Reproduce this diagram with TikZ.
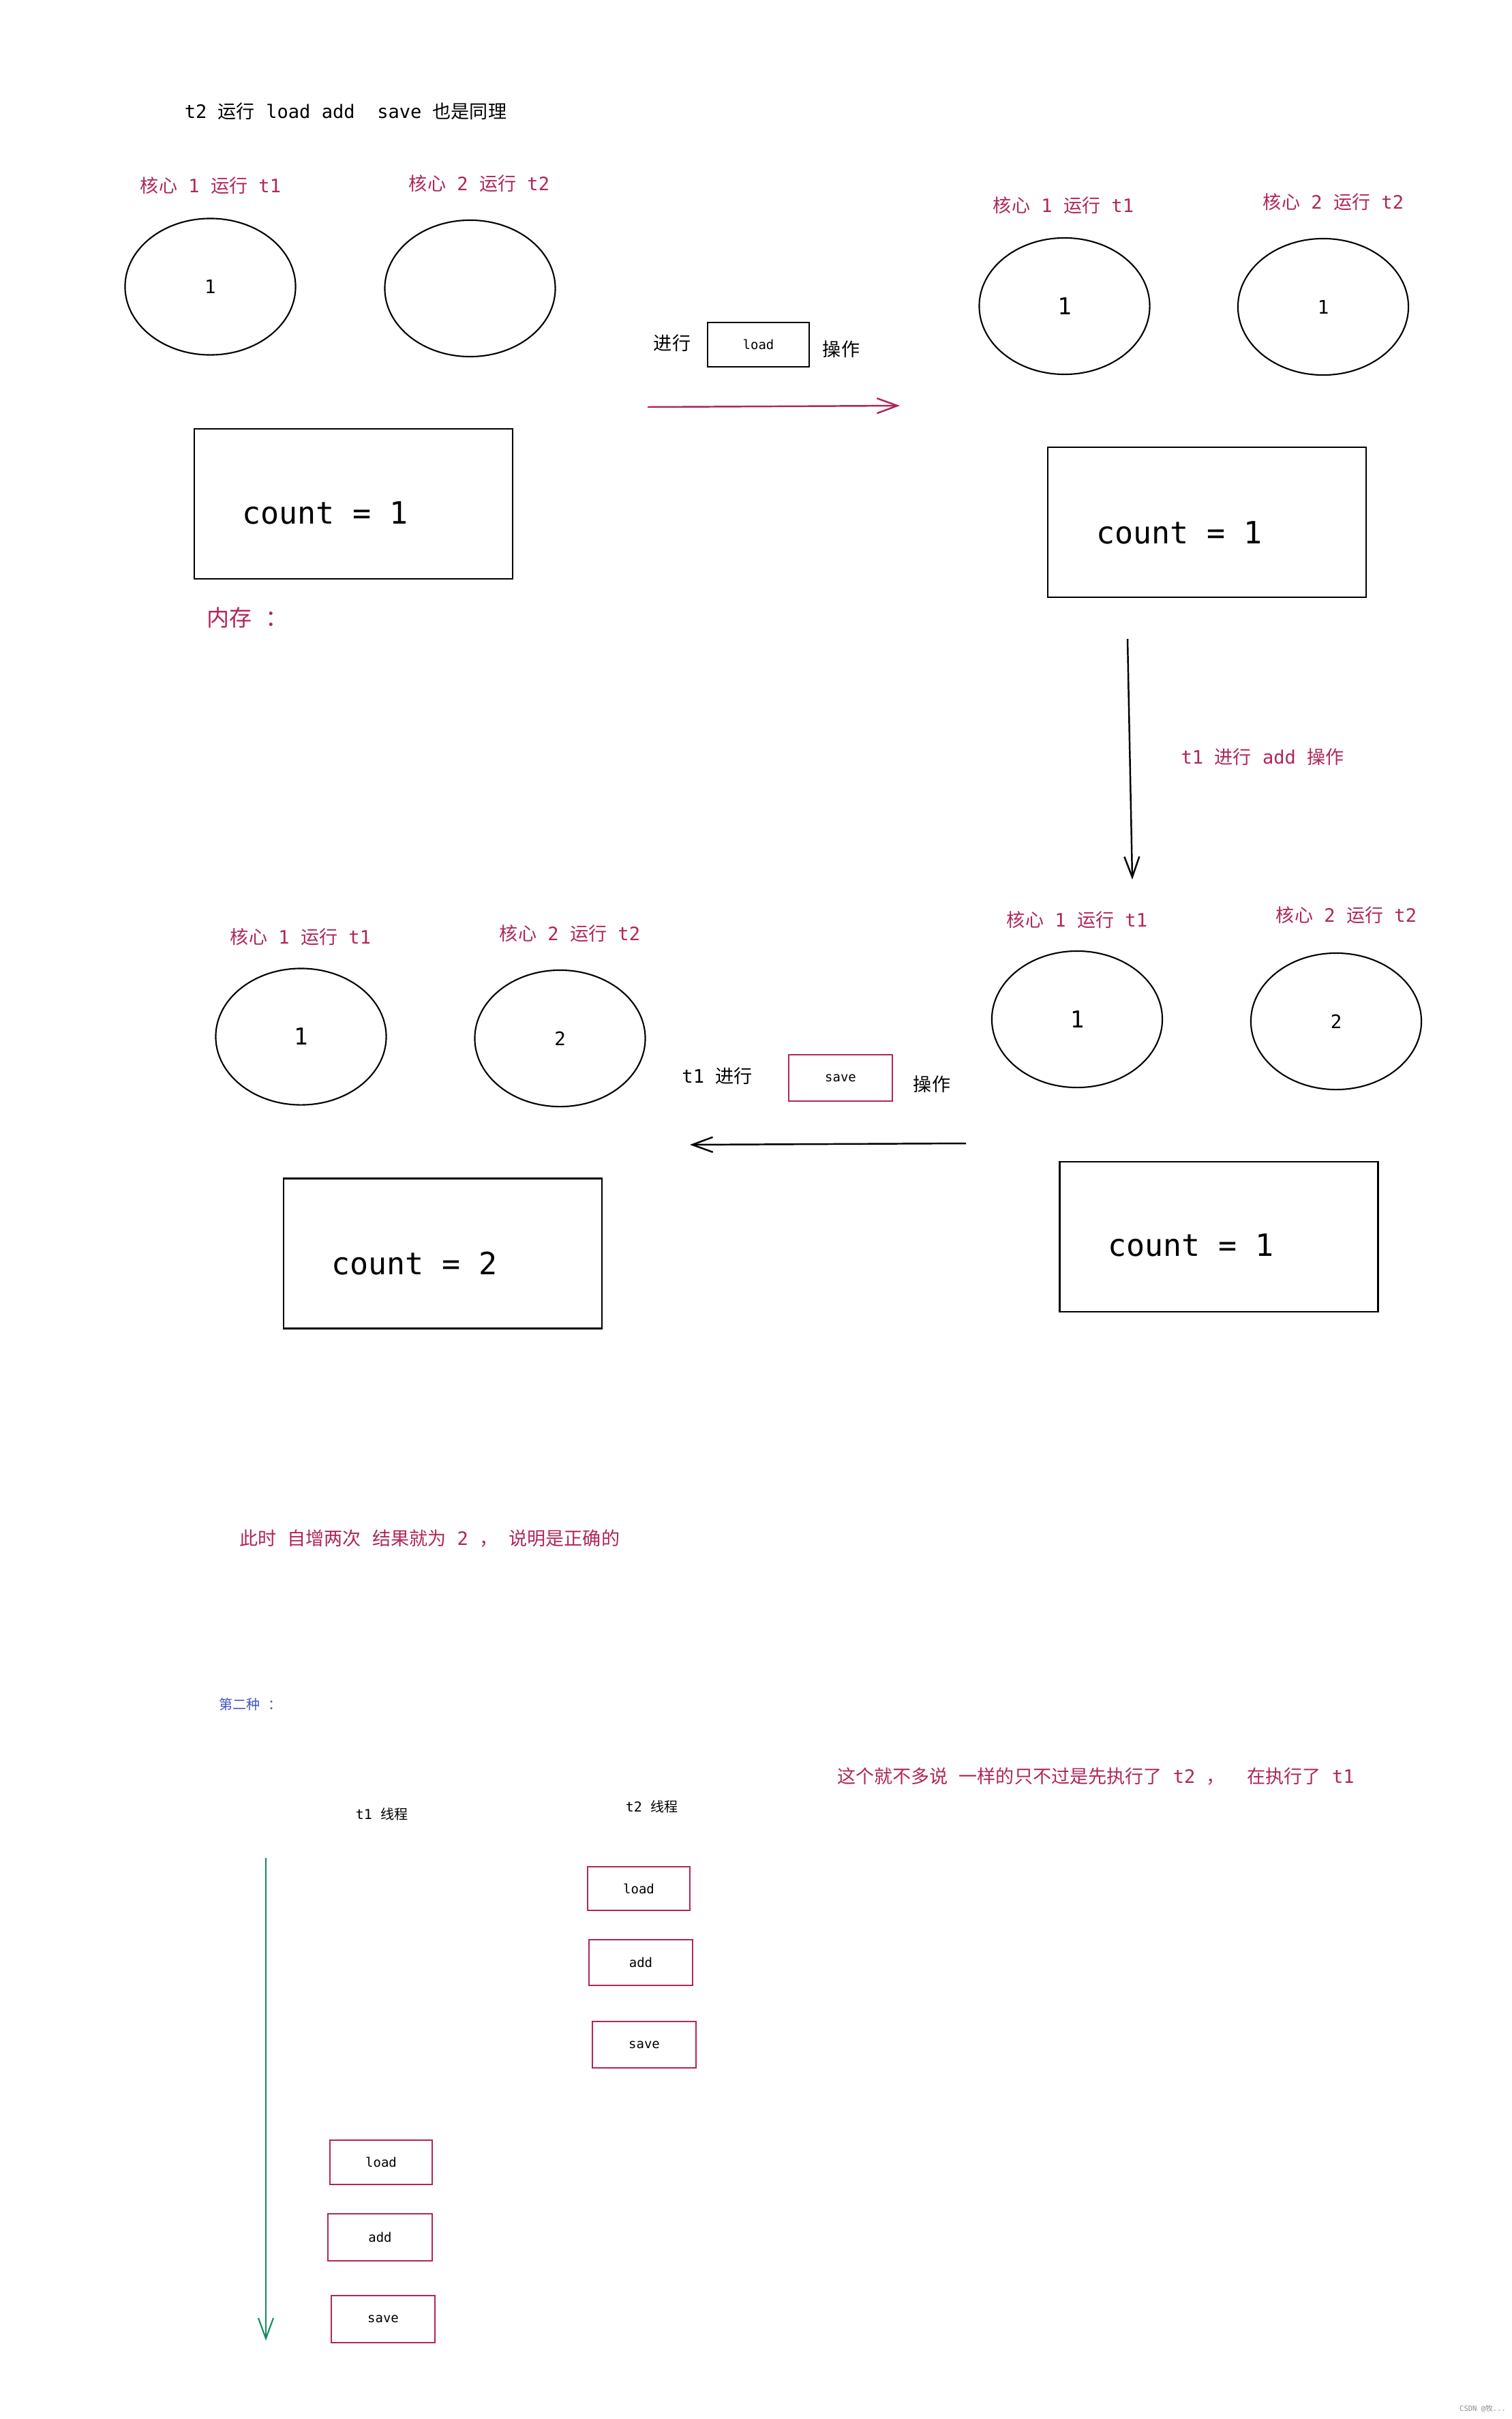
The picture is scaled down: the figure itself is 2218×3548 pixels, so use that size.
\documentclass[tikz,border=0pt]{standalone}
\usepackage{fontspec}
\setmainfont{DejaVu Sans Mono}
\newfontfamily\cjkf{Noto Sans CJK SC}
\usetikzlibrary{shapes.geometric,arrows.meta}
\definecolor{mred}{RGB}{176,38,90}
\definecolor{mgreen}{RGB}{22,138,94}
\definecolor{mblue}{RGB}{64,84,200}
\newcommand\zh[1]{{\cjkf #1}}
\begin{document}
\begin{tikzpicture}[x=0.01cm,y=-0.01cm,
  every node/.style={inner sep=0pt, outer sep=0pt},
  core/.style={draw, ellipse, line width=0.6pt, minimum width=2.5cm, minimum height=2cm},
  mem/.style={draw, rectangle, line width=0.7pt, minimum width=4.67cm, minimum height=2.2cm},
  lab/.style={text=mred, font=\fontsize{7.7}{9}\selectfont},
  blk/.style={text=black, font=\fontsize{7.7}{9}\selectfont},
  cnt/.style={anchor=west, font=\fontsize{12.8}{15}\selectfont},
  opbox/.style={draw, rectangle, line width=0.7pt, font=\fontsize{5.4}{6}\selectfont},
  redbox/.style={opbox, draw=mred},
  arr/.style={line width=0.7pt, -{Straight Barb[length=0.3cm,width=0.22cm]}},
]
\fill[white] (0,0) rectangle (2218,3548);
\useasboundingbox (0,0) rectangle (2218,3548);

% ---------- Panel A (top left) ----------
\node[blk] (top) at (507,163) {t2 \zh{运行} load add\ \ save \zh{也是同理}};
\node[lab] (la1) at (309,272) {\zh{核心} 1 \zh{运行} t1};
\node[lab] (la2) at (703,269) {\zh{核心} 2 \zh{运行} t2};
\node[core] (a1) at (308.5,420.5) {\fontsize{7.8}{9}\selectfont 1};
\node[core] (a2) at (689.5,423) {};
\node[mem] (ma) at (518.5,739) {};
\node[cnt] (ca) at (355,752) {count = 1};
\node[text=mred, anchor=west, font=\fontsize{9.4}{11}\selectfont] (nc) at (303,906) {\zh{内存} \zh{：}};

% load step
\node[blk] (jx1) at (986,503) {\zh{进行}};
\node[opbox, minimum width=1.49cm, minimum height=0.65cm] (ld) at (1112.5,505.5) {load};
\node[blk] (cz1) at (1234,512) {\zh{操作}};
\coordinate (p1s) at (950,597);
\coordinate (p1e) at (1320,595);
\draw[arr, mred] (p1s) -- (p1e);

% ---------- Panel B (top right) ----------
\node[lab] (lb1) at (1560,301) {\zh{核心} 1 \zh{运行} t1};
\node[lab] (lb2) at (1956,296) {\zh{核心} 2 \zh{运行} t2};
\node[core] (b1) at (1561.5,449) {\fontsize{9.7}{11}\selectfont 1};
\node[core] (b2) at (1941,450) {\fontsize{7.8}{9}\selectfont 1};
\node[mem] (mb) at (1770.5,766) {};
\node[cnt] (cb) at (1608,781) {count = 1};

% add step
\coordinate (p2s) at (1654,937);
\coordinate (p2e) at (1661,1290);
\draw[arr] (p2s) -- (p2e);
\node[lab] (addl) at (1852,1110) {t1 \zh{进行} add \zh{操作}};

% ---------- Panel C (middle right) ----------
\node[lab] (lc1) at (1580,1349) {\zh{核心} 1 \zh{运行} t1};
\node[lab] (lc2) at (1975,1342) {\zh{核心} 2 \zh{运行} t2};
\node[core] (c1) at (1580,1495) {\fontsize{9.7}{11}\selectfont 1};
\node[core] (c2) at (1960,1498) {\fontsize{7.8}{9}\selectfont 2};
\node[mem] (mc) at (1788,1814) {};
\node[cnt] (cc) at (1625,1826) {count = 1};

% save step
\node[blk] (jx2) at (1052,1578) {t1 \zh{进行}};
\node[redbox, minimum width=1.52cm, minimum height=0.68cm] (sv) at (1233,1581) {save};
\node[blk] (cz2) at (1367,1590) {\zh{操作}};
\coordinate (p3s) at (1417,1677);
\coordinate (p3e) at (1012,1679);
\draw[arr] (p3s) -- (p3e);

% ---------- Panel D (middle left) ----------
\node[lab] (ld1) at (441,1374) {\zh{核心} 1 \zh{运行} t1};
\node[lab] (ld2) at (836,1369) {\zh{核心} 2 \zh{运行} t2};
\node[core] (d1) at (441.5,1520.5) {\fontsize{9.7}{11}\selectfont 1};
\node[core] (d2) at (821.5,1523) {\fontsize{7.8}{9}\selectfont 2};
\node[mem] (md) at (649.5,1838.5) {};
\node[cnt] (cd) at (486,1853) {count = 2};

% ---------- Conclusion ----------
\node[lab, anchor=west] (concl) at (351,2256) {\zh{此时} \zh{自增两次} \zh{结果就为} 2 \zh{，} \zh{说明是正确的}};

% ---------- Second case ----------
\node[text=mblue, anchor=west, font=\fontsize{5.7}{7}\selectfont] (second) at (321,2500) {\zh{第二种} \zh{：}};
\node[lab, anchor=west] (note) at (1228,2605) {\zh{这个就不多说} \zh{一样的只不过是先执行了} t2 \zh{，}\ \ \zh{在执行了} t1};

\node[font=\fontsize{5.7}{7}\selectfont] (t1h) at (560,2661) {t1 \zh{线程}};
\node[font=\fontsize{5.7}{7}\selectfont] (t2h) at (956,2650) {t2 \zh{线程}};

\coordinate (gs) at (390,2725);
\coordinate (ge) at (390,3433);
\draw[arr, mgreen, line width=0.6pt] (gs) -- (ge);

\node[redbox, minimum width=1.50cm, minimum height=0.64cm] (t2ld) at (937,2770) {load};
\node[redbox, minimum width=1.52cm, minimum height=0.67cm] (t2ad) at (940,2878.5) {add};
\node[redbox, minimum width=1.52cm, minimum height=0.68cm] (t2sv) at (945,2999) {save};

\node[redbox, minimum width=1.50cm, minimum height=0.65cm] (t1ld) at (559,3171.5) {load};
\node[redbox, minimum width=1.53cm, minimum height=0.69cm] (t1ad) at (557.5,3281.5) {add};
\node[redbox, minimum width=1.52cm, minimum height=0.69cm] (t1sv) at (562,3401.5) {save};

% watermark
\node[text=black!45, font=\fontsize{3}{4}\selectfont] (wm) at (2175,3533) {CSDN @\zh{牧}...};
\end{tikzpicture}
\end{document}
